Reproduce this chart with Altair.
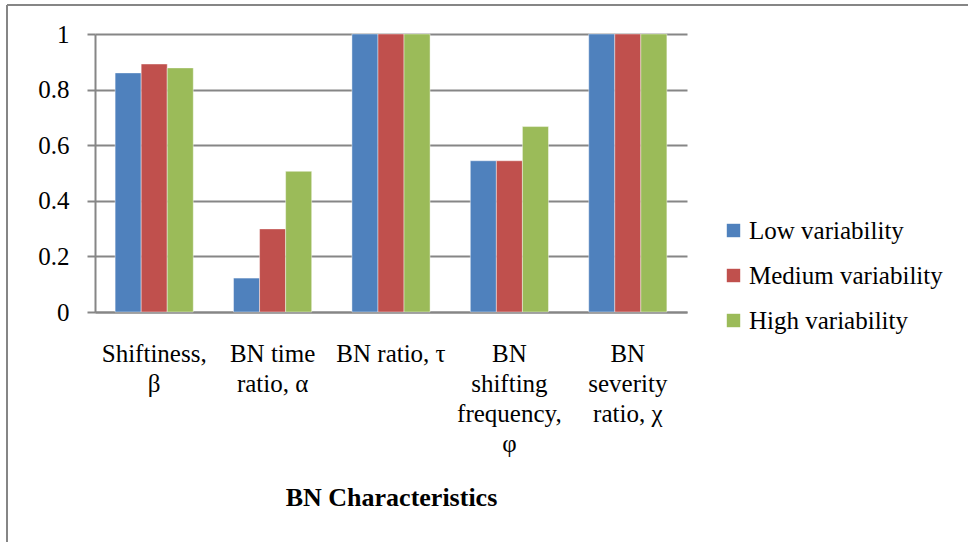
import altair as alt
import pandas as pd

categories = ["Shiftiness,|β", "BN time|ratio, α", "BN ratio, τ",
              "BN|shifting|frequency,|φ", "BN|severity|ratio, χ"]
series = ["Low variability", "Medium variability", "High variability"]
low = [0.86, 0.122, 1.0, 0.544, 1.0]
medium = [0.892, 0.299, 1.0, 0.544, 1.0]
high = [0.878, 0.506, 1.0, 0.667, 1.0]
colors = ["#4F81BD", "#C0504D", "#9BBB59"]
y_ticks = [0, 0.2, 0.4, 0.6, 0.8, 1.0]

rows = []
for s, vals in zip(series, [low, medium, high]):
    for c, v in zip(categories, vals):
        rows.append({"category": c, "series": s, "value": v})
df = pd.DataFrame(rows)

FONT = "Liberation Serif"
GRID = "#868686"

bars = alt.Chart(df).mark_bar(stroke="#ffffff", strokeWidth=0.6, strokeOpacity=0.7).encode(
    x=alt.X("category:N", sort=categories,
            scale=alt.Scale(paddingInner=0.34, paddingOuter=0.17),
            axis=alt.Axis(title="BN Characteristics", labelExpr="split(datum.label, '|')",
                          labelAngle=0, labelFont=FONT, labelFontSize=25, labelColor="#000000",
                          labelLineHeight=30, labelPadding=29, labelLimit=400,
                          labelOverlap=False, ticks=False, domain=True,
                          domainColor=GRID, domainWidth=2,
                          titleFont=FONT, titleFontSize=26, titleFontWeight="bold",
                          titleColor="#000000", titlePadding=28, grid=False)),
    xOffset=alt.XOffset("series:N", sort=series, scale=alt.Scale(paddingInner=0, paddingOuter=0)),
    y=alt.Y("value:Q", scale=alt.Scale(domain=[0, 1], nice=False),
            axis=alt.Axis(title=None, values=y_ticks, format="~g",
                          labelFont=FONT, labelFontSize=25, labelColor="#000000",
                          labelPadding=18, tickSize=8, tickColor=GRID, tickWidth=2,
                          domainColor=GRID, domainWidth=2,
                          grid=True, gridColor=GRID, gridWidth=2)),
    fill=alt.Fill("series:N", sort=series,
                  scale=alt.Scale(domain=series, range=colors),
                  legend=alt.Legend(title=None, orient="none", legendX=626, legendY=184,
                                    labelFont=FONT, labelFontSize=25, labelColor="#000000",
                                    labelLimit=400,
                                    symbolType="square", symbolSize=180, symbolStrokeWidth=0,
                                    labelOffset=3, rowPadding=19)),
)

top_line = alt.Chart(df).mark_rule(color=GRID, strokeWidth=2).encode(
    x=alt.value(-88), x2=alt.value(873), y=alt.value(-29))
left_line = alt.Chart(df).mark_rule(color=GRID, strokeWidth=2).encode(
    x=alt.value(-88), y=alt.value(-29), y2=alt.value(510))

chart = alt.layer(bars, top_line, left_line).properties(
    width=592, height=278,
    autosize=alt.AutoSizeParams(type="none"),
    padding={"left": 95, "top": 34, "right": 282, "bottom": 230},
    background="#ffffff",
).configure_view(strokeWidth=0)

chart.save("out.html", embed_options={"renderer": "svg", "actions": False})
